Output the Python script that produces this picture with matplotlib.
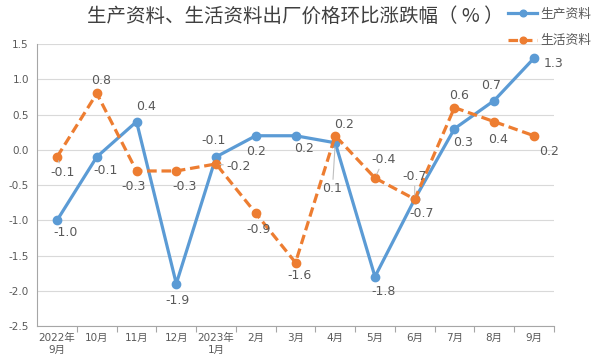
import numpy as np
import matplotlib.pyplot as plt

plt.rcParams['font.family'] = ['DejaVu Sans', 'Noto Sans CJK SC']

months = ['2022年\n9月', '10月', '11月', '12月', '2023年\n1月', '2月', '3月',
          '4月', '5月', '6月', '7月', '8月', '9月']
prod = [-1.0, -0.1, 0.4, -1.9, -0.1, 0.2, 0.2, 0.1, -1.8, -0.7, 0.3, 0.7, 1.3]
life = [-0.1, 0.8, -0.3, -0.3, -0.2, -0.9, -1.6, 0.2, -0.4, -0.7, 0.6, 0.4, 0.2]

# label offsets in points (dx, dy), leader flag
prod_off = [(6, -9), (6, -10), (7, 11), (1, -12), (-2, 12), (0, -11), (6, -9),
            (-2, -33), (6, -11), (5, -10), (6, -10), (-2, 11), (14, -4)]
prod_lead = [False] * 7 + [True] + [False] * 5
life_off = [(4, -11), (3, 9), (-2, -11), (6, -11), (16, -2), (2, -12), (3, -9),
            (6, 8), (6, 13), (0, 16), (3, 9), (3, -13), (11, -11)]
life_lead = [True, False, False, False, True, False, False, False, True, True,
             False, False, False]

blue = '#5B9BD5'
orange = '#ED7D31'
gray = '#595959'

fig = plt.figure(figsize=(6, 3.59), dpi=100)
ax = fig.add_axes([0.062, 0.092, 0.861, 0.785])
x = np.arange(len(months))

ax.plot(x, prod, color=blue, lw=2.3, marker='o', ms=6, label='生产资料', zorder=3)
ax.plot(x, life, color=orange, lw=2.3, ls=(0, (3, 1.5)), marker='o', ms=6,
        label='生活资料', zorder=3)

def put_labels(vals, offs, leads):
    for xi, v, (dx, dy), ld in zip(x, vals, offs, leads):
        kw = {}
        if ld:
            kw['arrowprops'] = dict(arrowstyle='-', color='#BFBFBF', lw=0.8,
                                    shrinkA=0, shrinkB=3)
        ax.annotate(f'{v:.1f}', (xi, v), xytext=(dx, dy), textcoords='offset points',
                    ha='center', va='center', fontsize=9, color=gray, zorder=4, **kw)

put_labels(prod, prod_off, prod_lead)
put_labels(life, life_off, life_lead)

ax.set_xlim(-0.5, 12.5)
ax.set_ylim(-2.5, 1.5)
ax.set_yticks(np.arange(-2.5, 1.51, 0.5))
ax.set_yticklabels([f'{t:.1f}' for t in np.arange(-2.5, 1.51, 0.5)])
ax.set_xticks(x)
ax.set_xticklabels(months, fontsize=7.5, color=gray, linespacing=1.2,
                   family=['DejaVu Sans', 'Noto Sans CJK SC'])
ax.set_xticks(np.arange(0.5, 12.6, 1), minor=True)
ax.tick_params(axis='x', which='major', length=0, pad=5)
ax.tick_params(axis='x', which='minor', length=4, color='#A6A6A6', width=0.8)
ax.tick_params(axis='y', length=0, labelsize=7.5, labelcolor=gray, pad=6)
ax.grid(axis='y', color='#D9D9D9', lw=0.8)
ax.set_axisbelow(True)
for s in ['top', 'right']:
    ax.spines[s].set_visible(False)
for s in ['left', 'bottom']:
    ax.spines[s].set_color('#A6A6A6')
    ax.spines[s].set_linewidth(0.8)

fig.text(0.492, 0.955, '生产资料、生活资料出厂价格环比涨跌幅（ % ）', ha='center', va='center',
         fontsize=14, color='#404040', family=['Noto Sans CJK SC', 'DejaVu Sans'])

leg = fig.legend(loc='upper right', bbox_to_anchor=(1.005, 1.01), frameon=False,
                 handlelength=2.3, labelspacing=1.05, handletextpad=0.25,
                 markerscale=0.8, prop={'family': ['Noto Sans CJK SC'], 'size': 9.2})
for t in leg.get_texts():
    t.set_color(gray)

fig.savefig('out.png', dpi=100)
